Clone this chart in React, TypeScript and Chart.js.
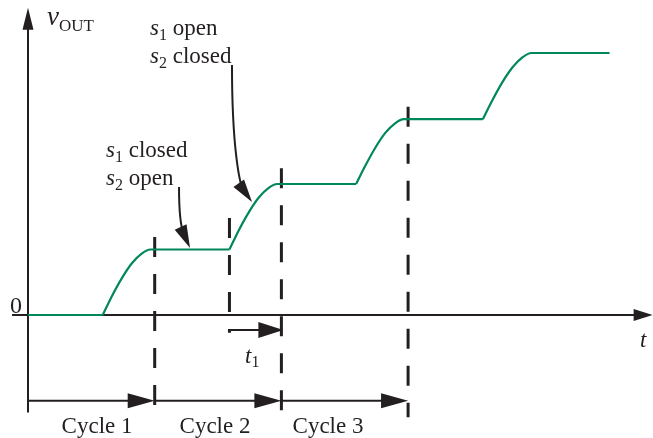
import { useEffect, useRef } from "react";
import { Chart, registerables } from "chart.js";

Chart.register(...registerables);

// Time in clock-cycle units (cycle boundaries at 1, 2, 3), output in integration steps.
const baseT = [0, 0.59];
const baseV = [0, 0];
const rise1T = [0.59, 0.66, 0.74, 0.82, 0.9, 0.965, 1.59];
const rise1V = [0, 0.28, 0.56, 0.79, 0.94, 1.0, 1.0];
const rise2T = [1.59, 1.66, 1.74, 1.82, 1.9, 1.965, 2.59];
const rise2V = [1.0, 1.28, 1.56, 1.79, 1.94, 2.0, 2.0];
const rise3T = [2.59, 2.66, 2.74, 2.82, 2.9, 2.965, 3.59];
const rise3V = [2.0, 2.27, 2.55, 2.78, 2.93, 2.99, 2.99];
const rise4T = [3.59, 3.66, 3.74, 3.82, 3.9, 3.975, 4.59];
const rise4V = [2.99, 3.26, 3.54, 3.77, 3.93, 4.0, 4.0];

const cycleLabels = ["Cycle 1", "Cycle 2", "Cycle 3"];
const cycleBounds = [0, 1, 2, 3];
const cycleLabelCenters = [0.545, 1.476, 2.368];
const t1Start = 1.59;
const t1End = 2.0;

const GREEN = "#00875a";
const INK = "#231f20";
const SERIF = '"Liberation Serif", "Times New Roman", serif';
const FS = 23;

// layout of the diagram, in data units
const X_MIN = -0.221;
const X_MAX = 4.933;
const Y_MIN = -1.878;
const Y_MAX = 4.809;

const dashed = [
  { t: 1.0, from: 1.19, to: -1.56 },
  { t: 1.59, from: 1.48, to: -0.27 },
  { t: 2.0, from: 2.24, to: -1.56 },
  { t: 3.0, from: 3.18, to: -1.56 },
];

type Run = { text: string; italic?: boolean; size: number; dy?: number };

function runsWidth(ctx: CanvasRenderingContext2D, runs: Run[]) {
  let w = 0;
  for (const r of runs) {
    ctx.font = `${r.italic ? "italic " : ""}${r.size}px ${SERIF}`;
    w += ctx.measureText(r.text).width;
  }
  return w;
}

function drawRuns(ctx: CanvasRenderingContext2D, x: number, y: number, runs: Run[]) {
  let cx = x;
  for (const r of runs) {
    ctx.font = `${r.italic ? "italic " : ""}${r.size}px ${SERIF}`;
    ctx.fillText(r.text, cx, y + (r.dy || 0));
    cx += ctx.measureText(r.text).width;
  }
}

function arrowHead(
  ctx: CanvasRenderingContext2D,
  tipX: number,
  tipY: number,
  dx: number,
  dy: number,
  len: number,
  half: number
) {
  const d = Math.hypot(dx, dy) || 1;
  const ux = dx / d;
  const uy = dy / d;
  const bx = tipX - ux * len;
  const by = tipY - uy * len;
  ctx.beginPath();
  ctx.moveTo(tipX, tipY);
  ctx.lineTo(bx - uy * half, by + ux * half);
  ctx.lineTo(bx + uy * half, by - ux * half);
  ctx.closePath();
  ctx.fill();
}

const diagramPlugin = {
  id: "diagram",
  beforeDatasetsDraw(chart: any) {
    const ctx: CanvasRenderingContext2D = chart.ctx;
    const X = (t: number) => chart.scales.x.getPixelForValue(t);
    const Y = (v: number) => chart.scales.y.getPixelForValue(v);
    ctx.save();
    ctx.strokeStyle = INK;
    ctx.fillStyle = INK;
    ctx.lineWidth = 2;
    // y axis
    ctx.beginPath();
    ctx.moveTo(X(0), Y(-1.49));
    ctx.lineTo(X(0), Y(4.69) + 18);
    ctx.stroke();
    arrowHead(ctx, X(0), Y(4.69), 0, -1, 22, 5.5);
    // x axis
    ctx.beginPath();
    ctx.moveTo(X(-0.126), Y(0));
    ctx.lineTo(X(4.93) - 14, Y(0));
    ctx.stroke();
    arrowHead(ctx, X(4.93), Y(0), 1, 0, 19, 6);
    // dashed markers
    ctx.lineWidth = 3;
    ctx.setLineDash([20, 17]);
    for (const d of dashed) {
      ctx.beginPath();
      ctx.moveTo(X(d.t), Y(d.from));
      ctx.lineTo(X(d.t), Y(d.to));
      ctx.stroke();
    }
    ctx.restore();
  },
  afterDatasetsDraw(chart: any) {
    const ctx: CanvasRenderingContext2D = chart.ctx;
    const X = (t: number) => chart.scales.x.getPixelForValue(t);
    const Y = (v: number) => chart.scales.y.getPixelForValue(v);
    ctx.save();
    ctx.strokeStyle = INK;
    ctx.fillStyle = INK;
    ctx.lineWidth = 2;
    ctx.textBaseline = "alphabetic";

    // cycle arrows
    const cy = Y(-1.31);
    for (let i = 0; i < cycleLabels.length; i++) {
      const a = X(cycleBounds[i]);
      const b = X(cycleBounds[i + 1]);
      ctx.beginPath();
      ctx.moveTo(a, cy);
      ctx.lineTo(b - 20, cy);
      ctx.stroke();
      arrowHead(ctx, b, cy, 1, 0, 27, 7.5);
      const runs: Run[] = [{ text: cycleLabels[i], size: FS }];
      const w = runsWidth(ctx, runs);
      drawRuns(ctx, X(cycleLabelCenters[i]) - w / 2, Y(-1.8), runs);
    }

    // t1 interval arrow
    const ty = Y(-0.23);
    ctx.beginPath();
    ctx.moveTo(X(t1Start), ty);
    ctx.lineTo(X(t1End) - 18, ty);
    ctx.stroke();
    arrowHead(ctx, X(t1End) + 2, ty, 1, 0, 25, 8);
    drawRuns(ctx, X(1.713), Y(-0.73), [
      { text: "t", italic: true, size: FS },
      { text: "1", size: 16, dy: 4 },
    ]);

    // axis labels
    drawRuns(ctx, X(0.15), Y(4.43), [
      { text: "v", italic: true, size: 27 },
      { text: "OUT", size: 17, dy: 6 },
    ]);
    drawRuns(ctx, X(4.83), Y(-0.49), [{ text: "t", italic: true, size: FS }]);
    const zr: Run[] = [{ text: "0", size: 24 }];
    drawRuns(ctx, X(-0.095) - runsWidth(ctx, zr) / 2, Y(0.03), zr);

    // switch-state annotations
    drawRuns(ctx, X(0.616), Y(2.41), [
      { text: "s", italic: true, size: FS },
      { text: "1", size: 16, dy: 5 },
      { text: " closed", size: FS },
    ]);
    drawRuns(ctx, X(0.616), Y(1.98), [
      { text: "s", italic: true, size: FS },
      { text: "2", size: 16, dy: 5 },
      { text: " open", size: FS },
    ]);
    drawRuns(ctx, X(0.963), Y(4.27), [
      { text: "s", italic: true, size: FS },
      { text: "1", size: 16, dy: 5 },
      { text: " open", size: FS },
    ]);
    drawRuns(ctx, X(0.963), Y(3.85), [
      { text: "s", italic: true, size: FS },
      { text: "2", size: 16, dy: 5 },
      { text: " closed", size: FS },
    ]);

    const pointers = [
      [
        [1.192, 1.954],
        [1.192, 1.527],
        [1.215, 1.298],
        [1.279, 1.023],
      ],
      [
        [1.61, 3.817],
        [1.61, 2.519],
        [1.673, 1.985],
        [1.768, 1.725],
      ],
    ];
    for (const p of pointers) {
      const pts = p.map(([t, v]) => [X(t), Y(v)]);
      const [s, c1, c2, e] = pts;
      const dx = e[0] - c2[0];
      const dy = e[1] - c2[1];
      const d = Math.hypot(dx, dy);
      const ex = e[0] - (dx / d) * 15;
      const ey = e[1] - (dy / d) * 15;
      ctx.beginPath();
      ctx.moveTo(s[0], s[1]);
      ctx.bezierCurveTo(c1[0], c1[1], c2[0], c2[1], ex, ey);
      ctx.stroke();
      arrowHead(ctx, e[0], e[1], dx, dy, 23, 6.5);
    }
    ctx.restore();
  },
};

function series(T: number[], V: number[]) {
  return {
    data: T.map((t, i) => ({ x: t, y: V[i] })),
    borderColor: GREEN,
    borderWidth: 2.2,
    pointRadius: 0,
    fill: false,
    cubicInterpolationMode: "monotone" as const,
  };
}

export default function App() {
  const ref = useRef<HTMLCanvasElement | null>(null);
  useEffect(() => {
    document.body.style.margin = "0";
    const canvas = ref.current!;
    const chart = new Chart(canvas, {
      type: "line",
      data: {
        datasets: [
          { ...series(baseT, baseV), cubicInterpolationMode: "default" as const, tension: 0 },
          series(rise1T, rise1V),
          series(rise2T, rise2V),
          series(rise3T, rise3V),
          series(rise4T, rise4V),
        ],
      },
      options: {
        responsive: false,
        maintainAspectRatio: false,
        animation: false,
        events: [],
        layout: { padding: 0 },
        plugins: { legend: { display: false }, tooltip: { enabled: false } },
        scales: {
          x: { type: "linear", min: X_MIN, max: X_MAX, display: false },
          y: { type: "linear", min: Y_MIN, max: Y_MAX, display: false },
        },
      },
      plugins: [diagramPlugin],
    });
    return () => chart.destroy();
  }, []);
  return (
    <div style={{ width: 653, height: 438, background: "#fff" }}>
      <canvas ref={ref} width={653} height={438} style={{ display: "block" }} />
    </div>
  );
}
